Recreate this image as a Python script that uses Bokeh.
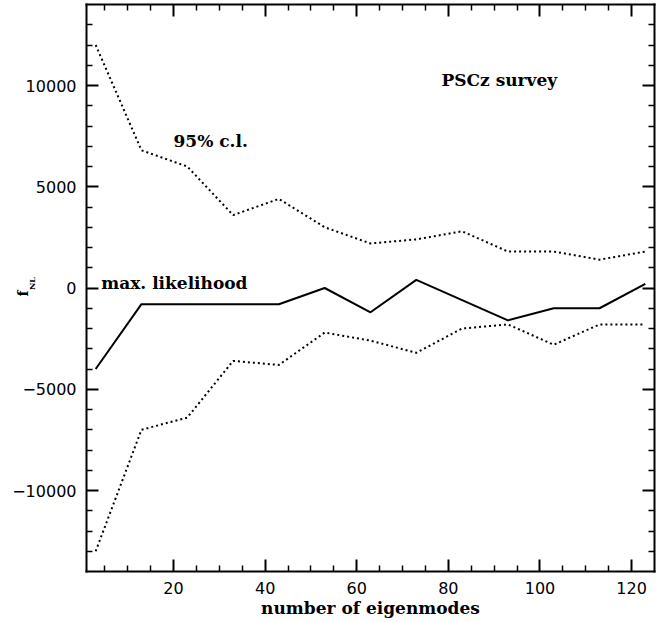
from bokeh.plotting import figure
from bokeh.models import (Range1d, LinearAxis, FixedTicker, Label)
from bokeh.embed import file_html
from bokeh.resources import INLINE
import math

# ---- data ----
eigenmodes = [3, 13, 23, 33, 43, 53, 63, 73, 83, 93, 103, 113, 123]
max_likelihood = [-4000, -800, -800, -800, -800, 0, -1200, 400, -600, -1600, -1000, -1000, 200]
upper_95 = [12000, 6800, 6000, 3600, 4400, 3000, 2200, 2400, 2800, 1800, 1800, 1400, 1800]
lower_95 = [-13000, -7000, -6400, -3600, -3800, -2200, -2600, -3200, -2000, -1800, -2800, -1800, -1800]

x_major = [20, 40, 60, 80, 100, 120]
x_minor = [5, 10, 15, 25, 30, 35, 45, 50, 55, 65, 70, 75, 85, 90, 95, 105, 110, 115]
y_major = [-10000, -5000, 0, 5000, 10000]
y_major_labels = ["\u221210000", "\u22125000", "0", "5000", "10000"]
y_minor = [v for v in range(-13000, 14000, 1000) if v % 5000 != 0]

# plot box (data limits of the framed area)
X0, X1 = 1, 125
Y0, Y1 = -14000, 14000

SERIF = "DejaVu Serif"
SANS = "DejaVu Sans"

# canvas geometry: the boxed area sits at px 86..654 (x) and 4..571 (y)
W, H = 660, 620
BOX_L, BOX_R, BOX_T, BOX_B = 86, 654, 4, 571
ux = (X1 - X0) / (BOX_R - BOX_L)
uy = (Y1 - Y0) / (BOX_B - BOX_T)
x_range = Range1d(X0 - BOX_L * ux, X1 + (W - BOX_R) * ux)
y_range = Range1d(Y0 - (H - BOX_B) * uy, Y1 + BOX_T * uy)

p = figure(frame_width=W, frame_height=H, x_range=x_range, y_range=y_range,
           output_backend="svg", toolbar_location=None,
           x_axis_location=None, y_axis_location=None, min_border=0)
p.grid.visible = False
p.outline_line_color = None
p.background_fill_color = "white"
p.border_fill_color = "white"

def style_axis(ax, ticks, minor, overrides, show_labels):
    ax.ticker = FixedTicker(ticks=ticks, minor_ticks=minor)
    ax.axis_line_color = "black"
    ax.axis_line_width = 2
    ax.axis_line_cap = "square"
    ax.major_tick_in = 12
    ax.major_tick_out = 0
    ax.minor_tick_in = 6
    ax.minor_tick_out = 0
    ax.major_tick_line_width = 2
    ax.minor_tick_line_width = 1.5
    ax.major_tick_line_color = "black"
    ax.minor_tick_line_color = "black"
    if show_labels:
        ax.major_label_overrides = overrides
        ax.major_label_text_font = SANS
        ax.major_label_text_font_size = "16px"
        ax.major_label_text_color = "black"
    else:
        ax.major_label_overrides = {t: "" for t in ticks}
        ax.major_label_text_font_size = "0px"
        ax.major_label_standoff = 0

xb = LinearAxis(fixed_location=Y0, bounds=(X0, X1))
style_axis(xb, x_major, x_minor, {t: str(t) for t in x_major}, True)
xb.major_label_standoff = 10
p.add_layout(xb, "below")

yl = LinearAxis(fixed_location=X0, bounds=(Y0, Y1))
style_axis(yl, y_major, y_minor, dict(zip(y_major, y_major_labels)), True)
yl.major_label_standoff = 10
p.add_layout(yl, "left")

xt = LinearAxis(fixed_location=Y1, bounds=(X0, X1))
style_axis(xt, x_major, x_minor, None, False)
p.add_layout(xt, "above")

yr = LinearAxis(fixed_location=X1, bounds=(Y0, Y1))
style_axis(yr, y_major, y_minor, None, False)
p.add_layout(yr, "right")

# ---- lines ----
p.line(eigenmodes, upper_95, line_color="black", line_width=2, line_dash="2 3")
p.line(eigenmodes, lower_95, line_color="black", line_width=2, line_dash="2 3")
p.line(eigenmodes, max_likelihood, line_color="black", line_width=2)

# ---- annotations ----
def add_text(x, y, txt, size="17px", angle=0.0, align="left", baseline="middle"):
    p.add_layout(Label(x=x, y=y, text=txt, text_font=SERIF, text_font_style="bold",
                       text_font_size=size, text_color="black", angle=angle,
                       text_align=align, text_baseline=baseline))

add_text(78.5, 10250, "PSCz survey")
add_text(20, 7250, "95% c.l.")
add_text(4.2, 260, "max. likelihood")

# x-axis title
add_text((X0 + X1) / 2, -15800, "number of eigenmodes", align="center")

# y-axis title f_NL (rotated, with subscript)
add_text(-12.8, -270, "f", size="14px", angle=math.pi / 2, align="center")
add_text(-11.0, 220, "NL", size="8px", angle=math.pi / 2, align="center")

open("out.html", "w").write(file_html(p, INLINE))
